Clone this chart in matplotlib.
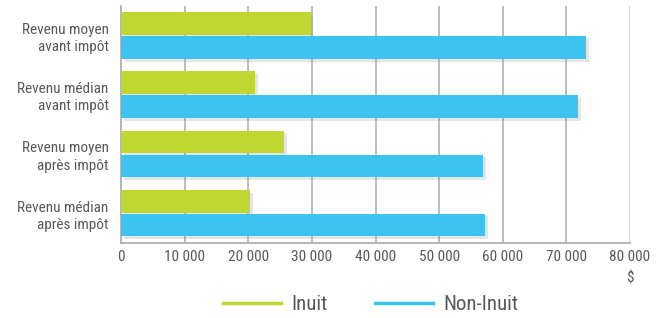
import matplotlib
matplotlib.use("Agg")
import matplotlib.pyplot as plt
import matplotlib.patheffects as pe
import matplotlib.font_manager as fm
from matplotlib.lines import Line2D
import numpy as np

categories = ["Revenu moyen\navant impôt", "Revenu médian\navant impôt",
              "Revenu moyen\naprès impôt", "Revenu médian\naprès impôt"]
inuit = [29800, 21100, 25600, 20300]
non_inuit = [73100, 71800, 56900, 57200]
xticks = [0, 10000, 20000, 30000, 40000, 50000, 60000, 70000, 80000]
xticklabels = ["0", "10 000", "20 000", "30 000", "40 000", "50 000",
               "60 000", "70 000", "80 000"]
series_names = ["Inuit", "Non-Inuit"]

GREEN = "#BFD730"
BLUE = "#3CC3EF"
GRID = "#A7A9AC"
TEXT = "#58595B"

# pick a condensed font if one is installed
fam, stretch = "DejaVu Sans", "normal"
cands = []
for f in fm.fontManager.ttflist:
    low = f.fname.lower()
    if ("narrow" in low or "condensed" in low) and f.weight in (400, "normal", "regular") \
            and f.style == "normal" and "bold" not in low and "oblique" not in low and "italic" not in low:
        cands.append(f)
order = ["liberation", "roboto", "open", "noto", "dejavu"]
cands.sort(key=lambda f: next((i for i, k in enumerate(order) if k in f.fname.lower()), 99))
if cands:
    fam, stretch = cands[0].name, cands[0].stretch
plt.rcParams['font.family'] = [fam, "DejaVu Sans"]
plt.rcParams['font.stretch'] = stretch

fig = plt.figure(figsize=(6.62, 3.18), dpi=100)
ax = fig.add_axes([121/662, 1-242.7/318, (630-121)/662, (242.7-6)/318])

y = np.arange(len(categories))
h = 0.385
shadow = [pe.SimplePatchShadow(offset=(2, -2), shadow_rgbFace="#808080", alpha=0.2), pe.Normal()]
b1 = ax.barh(y - h/2 - 0.01, inuit, height=h, color=GREEN, zorder=3)
b2 = ax.barh(y + h/2 + 0.01, non_inuit, height=h, color=BLUE, zorder=3)
for b in list(b1) + list(b2):
    b.set_path_effects(shadow)

ax.set_ylim(len(categories) - 0.5, -0.5)
ax.set_xlim(0, 80000)
ax.set_xticks(xticks)
ax.set_xticklabels(xticklabels, color=TEXT, fontsize=11)
ax.set_yticks(y)
ax.set_yticklabels(categories, color=TEXT, fontsize=11, linespacing=1.28)
ax.tick_params(axis='both', length=0, pad=5)
ax.tick_params(axis='y', pad=9)

for xv in xticks[1:-1]:
    ax.axvline(xv, color=GRID, lw=1.1, zorder=1)
ax.axvline(xticks[-1], color="#D1D3D4", lw=1.3, zorder=1)

for s in ["top", "right"]:
    ax.spines[s].set_visible(False)
for s in ["left", "bottom"]:
    ax.spines[s].set_color(GRID)
    ax.spines[s].set_linewidth(1.2)

fig.text(630/662, 1-278/318, "$", color=TEXT, fontsize=11, ha="center", va="center")

handles = [Line2D([0], [0], color=GREEN, lw=2.5), Line2D([0], [0], color=BLUE, lw=2.5)]
leg = fig.legend(handles, series_names, loc="center", bbox_to_anchor=(0.560, 0.042),
                 ncol=2, frameon=False, fontsize=15, handlelength=2.8,
                 columnspacing=2.25, handletextpad=0.5, labelcolor=TEXT)

fig.savefig("out.png", dpi=100, facecolor="white")
